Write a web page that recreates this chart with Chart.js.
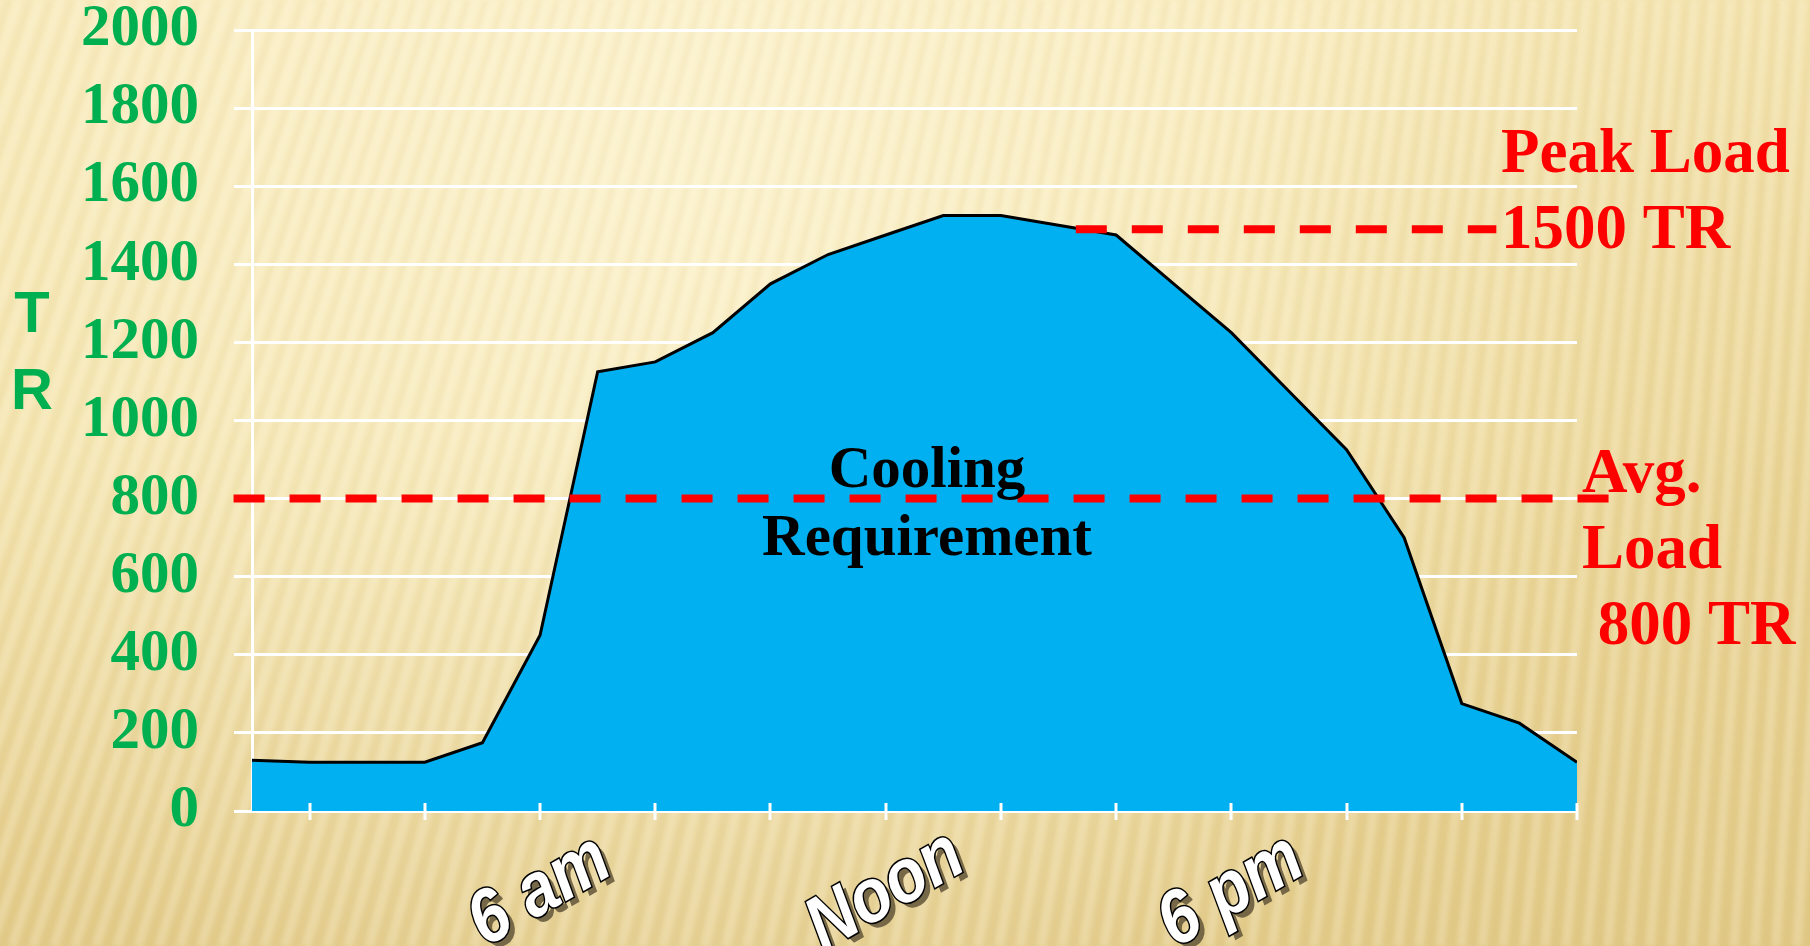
<!DOCTYPE html>
<html>
<head>
<meta charset="utf-8">
<title>Cooling Requirement</title>
<script src="https://cdn.jsdelivr.net/npm/chart.js@4.4.1/dist/chart.umd.min.js"></script>
<style>
    html, body { margin: 0; padding: 0; background: #F3E1A9; }
    #wrap { width: 1810px; height: 946px; }
</style>
</head>
<body>
<div id="wrap"><canvas id="myChart" width="1810" height="946"></canvas></div>
<script>
// hour of day (1..24) and cooling load in TR
const hours = [1, 2, 3, 4, 5, 6, 7, 8, 9, 10, 11, 12, 13, 14, 15, 16, 17, 18, 19, 20, 21, 22, 23, 24];
const loadTR = [130, 125, 125, 125, 175, 450, 1125, 1150, 1225, 1350, 1425, 1475, 1525, 1525, 1500, 1475, 1350, 1225, 1075, 925, 700, 275, 225, 125];

const xTickHours = [6, 12, 18];
const xTickLabels = ['6 am', 'Noon', '6 pm'];

// dashed reference lines (start / end hour)
const peakLoad = 1490;
const peakHours = [15.3, 22.6];
const avgLoad = 800;
const avgHours = [0.68, 24.6];

const peakText = ['Peak Load', '1500 TR'];
const avgText = ['Avg.', 'Load', ' 800 TR'];
const areaText = ['Cooling', 'Requirement'];
const yTitle = ['T', 'R'];

const GREEN = '#00B050';
const RED = '#FF0000';

const bgPlugin = {
    id: 'slideBg',
    beforeDraw(chart) {
        const {ctx, width, height} = chart;
        ctx.save();
        const g = ctx.createLinearGradient(0, 0, 0, height);
        g.addColorStop(0, '#F7E8B6');
        g.addColorStop(0.45, '#F3E2AA');
        g.addColorStop(1, '#E3CB8A');
        ctx.fillStyle = g;
        ctx.fillRect(0, 0, width, height);

        const r = ctx.createRadialGradient(700, 180, 40, 700, 180, 950);
        r.addColorStop(0, 'rgba(255,249,222,0.6)');
        r.addColorStop(1, 'rgba(255,249,222,0)');
        ctx.fillStyle = r;
        ctx.fillRect(0, 0, width, height);

        const d = ctx.createRadialGradient(1810, 500, 50, 1810, 500, 700);
        d.addColorStop(0, 'rgba(215,185,110,0.3)');
        d.addColorStop(1, 'rgba(215,185,110,0)');
        ctx.fillStyle = d;
        ctx.fillRect(0, 0, width, height);

        // soft stripes
        ctx.filter = 'blur(2px)';
        for (let x = -450; x < width + 60; x += 21) {
            const t = Math.max(0, Math.min(1, x / width));
            const slant = 0.34 - 0.28 * t;
            ctx.lineWidth = 9;
            ctx.strokeStyle = 'rgba(255,251,230,0.22)';
            ctx.beginPath();
            ctx.moveTo(x, height);
            ctx.lineTo(x + slant * height, 0);
            ctx.stroke();
            ctx.lineWidth = 5;
            ctx.strokeStyle = 'rgba(180,150,70,0.07)';
            ctx.beginPath();
            ctx.moveTo(x + 11, height);
            ctx.lineTo(x + 11 + slant * height, 0);
            ctx.stroke();
        }
        ctx.filter = 'none';
        ctx.restore();
    }
};

const annotatePlugin = {
    id: 'annotate',
    afterDatasetsDraw(chart) {
        const {ctx} = chart;
        const xs = chart.scales.x;
        const bottom = chart.chartArea.bottom;
        ctx.save();

        // small cross ticks on the x axis, every other hour
        ctx.strokeStyle = '#FFFFFF';
        ctx.lineWidth = 3;
        hours.filter(h => h % 2 === 0).forEach(h => {
            const px = Math.round(xs.getPixelForValue(h));
            ctx.beginPath();
            ctx.moveTo(px, bottom - 8);
            ctx.lineTo(px, bottom + 9);
            ctx.stroke();
        });

        // rotated word-art style x labels
        xTickHours.forEach((h, i) => {
            const px = xs.getPixelForValue(h);
            ctx.save();
            ctx.translate(px, 892);
            ctx.rotate(-30 * Math.PI / 180);
            ctx.scale(1.06, 1.22);
            ctx.font = 'italic bold 62px "Liberation Sans", Arial, sans-serif';
            ctx.textAlign = 'center';
            ctx.textBaseline = 'middle';
            ctx.shadowColor = 'rgba(105,92,62,0.9)';
            ctx.shadowOffsetX = 6;
            ctx.shadowOffsetY = 5;
            ctx.fillStyle = '#FFFFFF';
            ctx.fillText(xTickLabels[i], 0, 0);
            ctx.shadowColor = 'rgba(0,0,0,0)';
            ctx.lineWidth = 2.6;
            ctx.strokeStyle = '#000000';
            ctx.strokeText(xTickLabels[i], 0, 0);
            ctx.fillText(xTickLabels[i], 0, 0);
            ctx.restore();
        });

        // axis title letters
        ctx.fillStyle = GREEN;
        ctx.textAlign = 'center';
        ctx.textBaseline = 'alphabetic';
        ctx.font = 'bold 58px "Liberation Sans", Arial, sans-serif';
        ctx.fillText(yTitle[0], 32, 332);
        ctx.fillText(yTitle[1], 32, 409);

        // area caption
        ctx.fillStyle = '#000000';
        ctx.font = 'bold 59px "Liberation Serif", "Times New Roman", serif';
        ctx.fillText(areaText[0], 927, 487);
        ctx.fillText(areaText[1], 927, 555);

        // red notes
        ctx.fillStyle = RED;
        ctx.textAlign = 'left';
        ctx.font = 'bold 63px "Liberation Serif", "Times New Roman", serif';
        ctx.fillText(peakText[0], 1501, 172);
        ctx.fillText(peakText[1], 1501, 248);
        ctx.fillText(avgText[0], 1582, 492);
        ctx.fillText(avgText[1], 1582, 568);
        ctx.fillText(avgText[2], 1582, 644);

        ctx.restore();
    }
};

const ctx = document.getElementById('myChart');

const myChart = new Chart(ctx, {
    type: 'line',
    data: {
        datasets: [{
            label: 'Cooling Requirement',
            data: hours.map((h, i) => ({x: h, y: loadTR[i]})),
            fill: 'origin',
            backgroundColor: '#00B0F0',
            borderColor: '#000000',
            borderWidth: 3,
            pointRadius: 0,
            tension: 0,
            order: 3
        }, {
            label: 'Peak Load',
            data: peakHours.map(h => ({x: h, y: peakLoad})),
            borderColor: RED,
            borderWidth: 8,
            borderDash: [31, 25],
            borderCapStyle: 'butt',
            pointRadius: 0,
            fill: false,
            clip: false,
            order: 1
        }, {
            label: 'Avg. Load',
            data: avgHours.map(h => ({x: h, y: avgLoad})),
            borderColor: RED,
            borderWidth: 8,
            borderDash: [31, 25],
            borderCapStyle: 'butt',
            pointRadius: 0,
            fill: false,
            clip: false,
            order: 2
        }]
    },
    options: {
        responsive: false,
        animation: false,
        layout: {
            padding: {left: 0, right: 233, top: 30, bottom: 0}
        },
        scales: {
            x: {
                type: 'linear',
                min: 1,
                max: 24,
                ticks: {display: false, stepSize: 1},
                grid: {display: false},
                border: {display: true, color: '#FFFFFF', width: 3},
                afterFit: function (scale) {
                    scale.height = 135;
                    scale.paddingLeft = 0;
                    scale.paddingRight = 0;
                }
            },
            y: {
                min: 0,
                max: 2000,
                ticks: {
                    stepSize: 200,
                    color: GREEN,
                    padding: 35,
                    font: {family: '"Liberation Serif", "Times New Roman", serif', size: 59, weight: 'bold'},
                    callback: function (value) {
                        return String(value);
                    }
                },
                grid: {
                    color: '#FFFFFF',
                    lineWidth: 3,
                    tickLength: 18,
                    tickColor: '#FFFFFF'
                },
                border: {color: '#FFFFFF', width: 3},
                afterFit: function (scale) {
                    scale.width = 252;
                    scale.paddingTop = 0;
                    scale.paddingBottom = 0;
                }
            }
        },
        plugins: {
            legend: {display: false},
            tooltip: {enabled: false}
        }
    },
    plugins: [bgPlugin, annotatePlugin]
});
</script>
</body>
</html>
